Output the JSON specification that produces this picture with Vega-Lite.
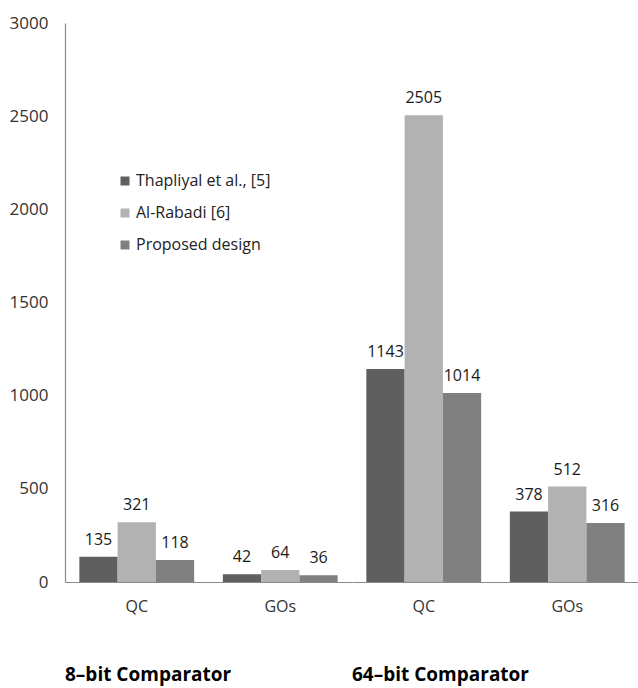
{
  "$schema": "https://vega.github.io/schema/vega-lite/v6.json",
  "padding": {"left": 9, "top": 14, "right": 0, "bottom": 3},
  "config": {
    "font": "Open Sans",
    "view": {"stroke": null},
    "facet": {"spacing": 0}
  },
  "data": {
    "values": [
      {"comparator": "8–bit Comparator", "metric": "QC", "design": "Thapliyal et al., [5]", "value": 135},
      {"comparator": "8–bit Comparator", "metric": "QC", "design": "Al-Rabadi [6]", "value": 321},
      {"comparator": "8–bit Comparator", "metric": "QC", "design": "Proposed design", "value": 118},
      {"comparator": "8–bit Comparator", "metric": "GOs", "design": "Thapliyal et al., [5]", "value": 42},
      {"comparator": "8–bit Comparator", "metric": "GOs", "design": "Al-Rabadi [6]", "value": 64},
      {"comparator": "8–bit Comparator", "metric": "GOs", "design": "Proposed design", "value": 36},
      {"comparator": "64–bit Comparator", "metric": "QC", "design": "Thapliyal et al., [5]", "value": 1143},
      {"comparator": "64–bit Comparator", "metric": "QC", "design": "Al-Rabadi [6]", "value": 2505},
      {"comparator": "64–bit Comparator", "metric": "QC", "design": "Proposed design", "value": 1014},
      {"comparator": "64–bit Comparator", "metric": "GOs", "design": "Thapliyal et al., [5]", "value": 378},
      {"comparator": "64–bit Comparator", "metric": "GOs", "design": "Al-Rabadi [6]", "value": 512},
      {"comparator": "64–bit Comparator", "metric": "GOs", "design": "Proposed design", "value": 316}
    ]
  },
  "facet": {
    "column": {
      "field": "comparator",
      "sort": ["8–bit Comparator", "64–bit Comparator"],
      "header": {
        "title": null,
        "labelOrient": "bottom",
        "labelAnchor": "start",
        "labelFont": "Open Sans",
        "labelFontWeight": "bold",
        "labelFontSize": 19,
        "labelColor": "#000000",
        "labelPadding": 52
      }
    }
  },
  "spec": {
    "width": 287,
    "height": 559,
    "encoding": {
      "x": {
        "field": "metric",
        "type": "nominal",
        "sort": ["QC", "GOs"],
        "scale": {"paddingInner": 0.2, "paddingOuter": 0.1},
        "axis": {
          "title": null,
          "labelAngle": 0,
          "ticks": false,
          "labelPadding": 16,
          "labelFontSize": 16,
          "labelColor": "#333333",
          "domainColor": "#8a8a8a",
          "domainWidth": 1.2
        }
      },
      "xOffset": {
        "field": "design",
        "sort": ["Thapliyal et al., [5]", "Al-Rabadi [6]", "Proposed design"]
      },
      "y": {
        "field": "value",
        "type": "quantitative",
        "scale": {"domain": [0, 3000], "nice": false},
        "axis": {
          "title": null,
          "grid": false,
          "ticks": false,
          "format": "d",
          "values": [0, 500, 1000, 1500, 2000, 2500, 3000],
          "labelPadding": 17,
          "labelFontSize": 17,
          "labelColor": "#333333",
          "domainColor": "#8a8a8a",
          "domainWidth": 1.2
        }
      }
    },
    "layer": [
      {
        "mark": {"type": "bar"},
        "encoding": {
          "color": {
            "field": "design",
            "type": "nominal",
            "sort": ["Thapliyal et al., [5]", "Al-Rabadi [6]", "Proposed design"],
            "scale": {"range": ["#5f5f5f", "#b2b2b2", "#808080"]},
            "legend": {
              "title": null,
              "orient": "none",
              "legendX": 52,
              "legendY": 150,
              "symbolType": "square",
              "symbolSize": 81,
              "symbolStrokeWidth": 0,
              "labelFontSize": 16,
              "labelColor": "#222222",
              "rowPadding": 16,
              "labelOffset": 3
            }
          }
        }
      },
      {
        "mark": {
          "type": "text",
          "baseline": "alphabetic",
          "dy": -12,
          "fontSize": 16,
          "color": "#1a1a1a"
        },
        "encoding": {
          "text": {"field": "value", "type": "quantitative", "format": "d"}
        }
      }
    ]
  }
}
